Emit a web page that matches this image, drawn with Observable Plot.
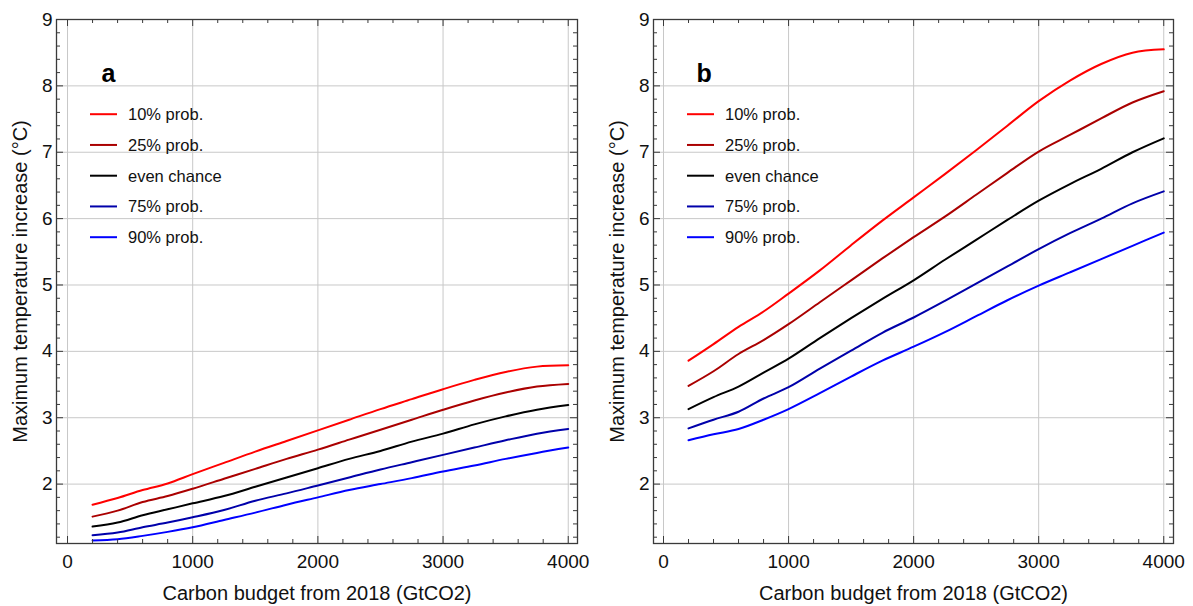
<!DOCTYPE html>
<html><head><meta charset="utf-8">
<script src="https://cdn.jsdelivr.net/npm/d3@7"></script>
<script src="https://cdn.jsdelivr.net/npm/@observablehq/plot@0.6"></script>
<style>
body{margin:0;background:#fff;}
#wrap{position:relative;width:1193px;height:606px;overflow:hidden;font-family:"Liberation Sans",Arial,sans-serif;}
#wrap svg{position:absolute;top:0;}
</style></head><body><div id="wrap"></div>
<script>
// Carbon budget from 2018 (GtCO2)
const budget = [200, 400, 600, 800, 1000, 1250, 1500, 1750, 2000, 2250, 2500, 2750, 3000, 3250, 3500, 3750, 4000];

const seriesNames = ["10% prob.", "25% prob.", "even chance", "75% prob.", "90% prob."];
const seriesColors = ["#ff0000", "#aa0000", "#000000", "#0000aa", "#0000ff"];

// Panel a
const p10a = [1.69, 1.79, 1.91, 2.01, 2.15, 2.32, 2.49, 2.65, 2.81, 2.97, 3.13, 3.28, 3.43, 3.57, 3.69, 3.77, 3.79];
const p25a = [1.51, 1.60, 1.73, 1.82, 1.93, 2.08, 2.23, 2.38, 2.52, 2.67, 2.82, 2.97, 3.12, 3.26, 3.38, 3.47, 3.51];
const p50a = [1.36, 1.42, 1.53, 1.62, 1.71, 1.82, 1.96, 2.10, 2.24, 2.38, 2.50, 2.64, 2.76, 2.90, 3.02, 3.12, 3.19];
const p75a = [1.23, 1.27, 1.35, 1.42, 1.50, 1.61, 1.75, 1.86, 1.98, 2.10, 2.22, 2.33, 2.44, 2.55, 2.66, 2.76, 2.83];
const p90a = [1.15, 1.17, 1.22, 1.28, 1.35, 1.46, 1.57, 1.69, 1.80, 1.91, 2.00, 2.09, 2.19, 2.28, 2.38, 2.47, 2.55];

// Panel b
const p10b = [3.86, 4.11, 4.37, 4.60, 4.87, 5.22, 5.60, 5.97, 6.32, 6.67, 7.03, 7.40, 7.77, 8.08, 8.33, 8.50, 8.55];
const p25b = [3.48, 3.70, 3.96, 4.17, 4.41, 4.74, 5.07, 5.40, 5.72, 6.03, 6.36, 6.69, 7.01, 7.26, 7.51, 7.75, 7.92];
const p50b = [3.13, 3.31, 3.47, 3.68, 3.89, 4.20, 4.50, 4.79, 5.07, 5.38, 5.68, 5.98, 6.27, 6.52, 6.75, 7.00, 7.21];
const p75b = [2.84, 2.97, 3.09, 3.29, 3.46, 3.74, 4.01, 4.28, 4.51, 4.76, 5.02, 5.28, 5.54, 5.78, 6.00, 6.23, 6.41];
const p90b = [2.66, 2.75, 2.83, 2.97, 3.13, 3.37, 3.62, 3.86, 4.07, 4.29, 4.53, 4.77, 4.99, 5.19, 5.39, 5.59, 5.79];

const xTicks = [0, 1000, 2000, 3000, 4000];
const yTicks = [2, 3, 4, 5, 6, 7, 8, 9];
const xLabel = "Carbon budget from 2018 (GtCO2)";
const yLabel = "Maximum temperature increase (°C)";

const xMinor = d3.range(0, 4001, 200).filter(v => v % 1000 !== 0);
const yMinor = d3.range(12, 89, 2).filter(v => v % 10 !== 0).map(v => v / 10);

const FONT = '"Liberation Sans", Arial, sans-serif';
const wrap = document.getElementById("wrap");

function panel({values, letter, left, width, mL, mR, xDomain, letterDx}) {
  const H = 606, mT = 19, mB = 63;
  const fw = width - mL - mR, fh = H - mT - mB;
  const tickC = "#3a3a3a";
  const data = [];
  values.forEach((arr, k) => arr.forEach((v, i) => data.push({x: budget[i], y: v, s: seriesNames[k]})));
  const svg = Plot.plot({
    width, height: H, marginLeft: mL, marginRight: mR, marginTop: mT, marginBottom: mB,
    x: {domain: xDomain, axis: null},
    y: {domain: [1.105, 9], axis: null},
    color: {domain: seriesNames, range: seriesColors},
    style: {fontFamily: FONT, background: "transparent", overflow: "visible", color: "#111"},
    marks: [
      Plot.ruleX(xTicks, {stroke: "#c8c8c8", strokeWidth: 1}),
      Plot.ruleY(yTicks, {stroke: "#c8c8c8", strokeWidth: 1}),
      Plot.line(data, {x: "x", y: "y", z: "s", stroke: "s", strokeWidth: 2, curve: "catmull-rom"}),
      Plot.ruleY(yTicks, {insetRight: fw - 7, stroke: tickC}),
      Plot.ruleY(yTicks, {insetLeft: fw - 7, stroke: tickC}),
      Plot.ruleY(yMinor, {insetRight: fw - 4, stroke: tickC}),
      Plot.ruleY(yMinor, {insetLeft: fw - 4, stroke: tickC}),
      Plot.ruleX(xTicks, {insetTop: fh - 7, stroke: tickC}),
      Plot.ruleX(xTicks, {insetBottom: fh - 7, stroke: tickC}),
      Plot.ruleX(xMinor, {insetTop: fh - 4, stroke: tickC}),
      Plot.ruleX(xMinor, {insetBottom: fh - 4, stroke: tickC}),
      Plot.frame({stroke: tickC, strokeWidth: 1.3}),
      Plot.text(xTicks, {x: d => d, text: d => String(d), frameAnchor: "bottom", dy: 18, textAnchor: "middle", lineAnchor: "middle", fontSize: 19, fill: "#111"}),
      Plot.text(yTicks, {y: d => d, text: d => String(d), frameAnchor: "left", dx: -4, textAnchor: "end", lineAnchor: "middle", fontSize: 19, fill: "#111"}),
      Plot.text([xLabel], {text: d => d, frameAnchor: "bottom", dy: 56, textAnchor: "middle", lineAnchor: "bottom", fontSize: 20, fill: "#111"}),
      Plot.text([yLabel], {text: d => d, frameAnchor: "left", dx: -29.5, rotate: -90, textAnchor: "middle", lineAnchor: "bottom", fontSize: 20, fill: "#111"}),
      Plot.text([letter], {text: d => d, frameAnchor: "top-left", dx: letterDx, dy: 62.5, textAnchor: "start", lineAnchor: "bottom", fontSize: 25, fontWeight: "bold", fill: "#000"})
    ]
  });
  svg.style.left = left + "px";
  // legend
  const g = d3.select(svg).append("g").attr("font-family", FONT).attr("font-size", 16.5).attr("text-anchor", "start");
  seriesNames.forEach((name, i) => {
    const y = mT + 95.2 + i * 30.75;
    g.append("line").attr("x1", mL + 34).attr("x2", mL + 61).attr("y1", y).attr("y2", y)
      .attr("stroke", seriesColors[i]).attr("stroke-width", 2);
    g.append("text").attr("x", mL + 72).attr("y", y).attr("dy", "0.36em").attr("fill", "#111").text(name);
  });
  wrap.appendChild(svg);
}

panel({values: [p10a, p25a, p50a, p75a, p90a], letter: "a", left: 0, width: 596, mL: 56, mR: 19, xDomain: [-88, 4074], letterDx: 45});
panel({values: [p10b, p25b, p50b, p75b, p90b], letter: "b", left: 596, width: 597, mL: 57, mR: 20, xDomain: [-80, 4078], letterDx: 43});
</script>
</body></html>
